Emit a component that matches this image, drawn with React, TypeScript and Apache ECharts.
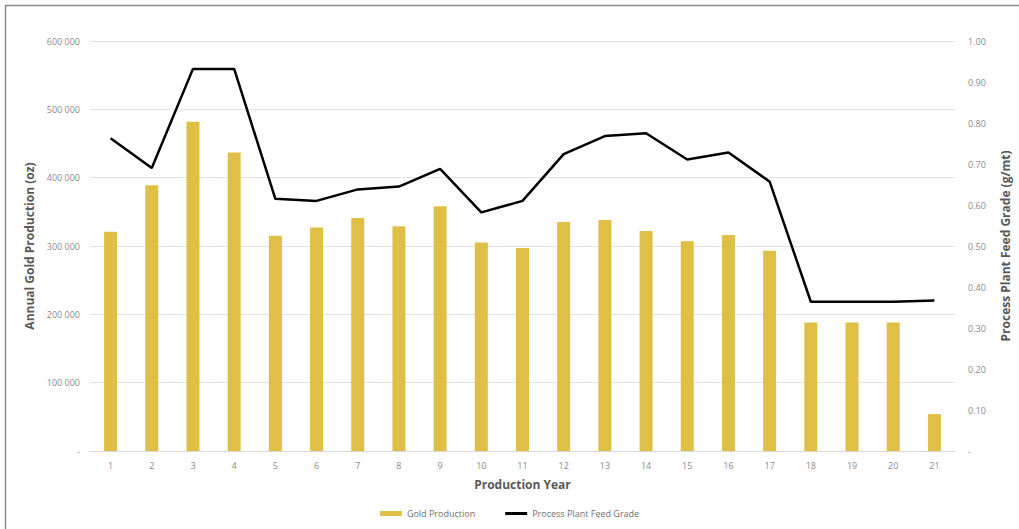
import React, { useEffect, useRef } from "react";
import * as echarts from "echarts";

const years = ["1","2","3","4","5","6","7","8","9","10","11","12","13","14","15","16","17","18","19","20","21"];
const goldProduction = [321000, 389000, 482000, 437000, 315000, 327000, 341000, 329000, 358000, 305000, 297000, 335000, 338000, 322000, 307000, 316000, 293000, 188000, 188000, 188000, 54000];
const feedGrade = [0.763, 0.69, 0.932, 0.932, 0.615, 0.61, 0.638, 0.645, 0.688, 0.582, 0.61, 0.724, 0.768, 0.775, 0.711, 0.728, 0.657, 0.364, 0.364, 0.364, 0.367];

const FONT = "'Open Sans', 'Liberation Sans', sans-serif";

export default function App() {
  const ref = useRef<HTMLDivElement>(null);
  useEffect(() => {
    const chart = echarts.init(ref.current!, null, { renderer: "svg" });
    chart.setOption({
      animation: false,
      backgroundColor: "#ffffff",
      textStyle: { fontFamily: FONT },
      graphic: [
        {
          type: "rect",
          shape: { x: 5.5, y: 5.5, width: 1030, height: 540 },
          style: { fill: "none", stroke: "#8c8c8c", lineWidth: 1.5 },
          silent: true,
        },
      ],
      grid: { left: 90, right: 59, top: 41, bottom: 78 },
      legend: {
        bottom: 6,
        left: "center",
        itemGap: 30,
        textStyle: { color: "#707070", fontSize: 9, fontFamily: FONT },
        data: [
          { name: "Gold Production", icon: "rect", itemStyle: { color: "#E0BF47" } },
          { name: "Process Plant Feed Grade", icon: "path://M0,0 L22,0 L22,3 L0,3 Z", itemStyle: { color: "#000000" } },
        ],
        itemWidth: 22,
        itemHeight: 5,
      },
      xAxis: {
        type: "category",
        data: years,
        name: "Production Year",
        nameLocation: "middle",
        nameGap: 27,
        nameTextStyle: { color: "#595959", fontSize: 12, fontWeight: "bold", fontFamily: FONT },
        axisLine: { show: true, lineStyle: { color: "#d9d9d9" } },
        axisTick: { show: false },
        axisLabel: { color: "#8a8a8a", fontSize: 9, margin: 10 },
      },
      yAxis: [
        {
          type: "value",
          min: 0,
          max: 600000,
          interval: 100000,
          name: "Annual Gold Production (oz)",
          nameLocation: "middle",
          nameGap: 54,
          nameRotate: 90,
          nameTextStyle: { color: "#595959", fontSize: 12, fontWeight: "bold", fontFamily: FONT },
          axisLine: { show: false },
          axisTick: { show: false },
          axisLabel: {
            color: "#8a8a8a",
            fontSize: 9,
            margin: 10,
            formatter: (v: number) => (v === 0 ? "-" : `${Math.round(v / 1000)} 000`),
          },
          splitLine: { lineStyle: { color: "#e3e3e3", width: 1 } },
        },
        {
          type: "value",
          min: 0,
          max: 1,
          interval: 0.1,
          name: "Process Plant Feed Grade (g/mt)",
          nameLocation: "middle",
          nameGap: 44,
          nameRotate: 90,
          nameTextStyle: { color: "#595959", fontSize: 12, fontWeight: "bold", fontFamily: FONT },
          axisLine: { show: false },
          axisTick: { show: false },
          axisLabel: {
            color: "#8a8a8a",
            fontSize: 9,
            margin: 13,
            formatter: (v: number) => (v === 0 ? "-" : v.toFixed(2)),
          },
          splitLine: { show: false },
        },
      ],
      series: [
        {
          name: "Gold Production",
          type: "bar",
          data: goldProduction,
          yAxisIndex: 0,
          barWidth: 13,
          itemStyle: { color: "#E0BF47" },
        },
        {
          name: "Process Plant Feed Grade",
          type: "line",
          data: feedGrade,
          yAxisIndex: 1,
          symbol: "none",
          lineStyle: { color: "#000000", width: 2.5 },
          itemStyle: { color: "#000000" },
        },
      ],
    });
    return () => chart.dispose();
  }, []);
  return (
    <div
      ref={ref}
      style={{ position: "absolute", left: 0, top: 0, width: 1019, height: 529 }}
    />
  );
}
